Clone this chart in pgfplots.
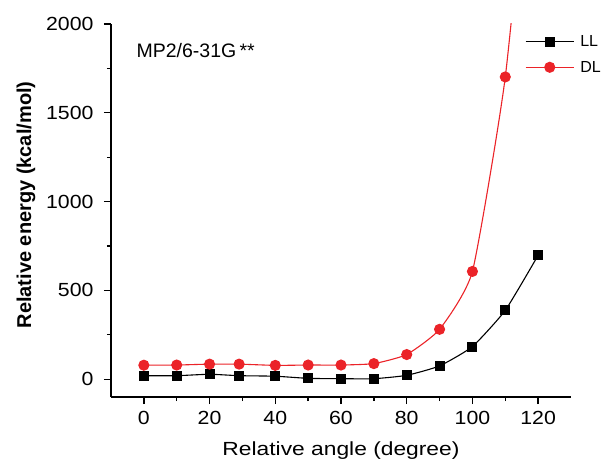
\documentclass[border=0pt]{standalone}
\usepackage{pgfplots}
\pgfplotsset{compat=1.18}
\usepackage{fontspec}
\setmainfont{Liberation Sans}
\newfontfamily\widefont[FakeStretch=1.2]{Liberation Sans}
\newfontfamily\tickfont[FakeStretch=1.12]{Liberation Sans}
\definecolor{dlred}{RGB}{235,35,40}
\begin{document}
\begin{tikzpicture}[x=1pt,y=1pt]
\useasboundingbox (0,0) rectangle (603,461);
\begin{axis}[
  scale only axis, width=460pt, height=373pt,
  at={(111pt,64pt)}, anchor=south west,
  xmin=-10, xmax=130, ymin=-100, ymax=2000,
  axis x line*=bottom, axis y line*=left,
  axis line style={line width=1.3pt},
  xtick={0,20,...,120}, minor x tick num=1,
  ytick={0,500,...,2000}, minor y tick num=1,
  tick align=outside,
  major tick length=7pt, minor tick length=4pt,
  every tick/.style={line width=1.3pt, black},
  /pgf/number format/assume math mode=true,
  /pgf/number format/1000 sep={},
  tick label style={font=\tickfont\fontsize{19}{21}\selectfont},
  xticklabel style={yshift=-4pt},
  yticklabel style={xshift=-7pt},
  xlabel={Relative angle (degree)},
  ylabel={\bfseries Relative energy (kcal/mol)},
  xlabel style={at={(axis description cs:0.5,-0.145)}, anchor=center, font=\widefont\fontsize{19}{21}\selectfont},
  ylabel style={at={(axis description cs:-0.185,0.515)}, anchor=center, font=\fontsize{20}{22}\selectfont},
  legend style={at={(axis description cs:0.9,0.975)}, anchor=north west,
    draw=none, fill=none, font=\fontsize{16}{18}\selectfont,
    row sep=9pt, column sep=4pt, inner sep=0pt},
  legend cell align=left,
  legend image code/.code={
    \draw[mark repeat=2,mark phase=2,#1] plot coordinates {(0pt,0pt) (24pt,0pt) (48pt,0pt)};},
  clip=true,
]
\addplot[black, line width=1.1pt, mark=square*, mark size=4.5pt, smooth, tension=0.3,
  mark options={solid, fill=black}]
  coordinates {(0,20) (10,20) (20,28) (29,20) (40,17) (50,5) (60,3) (70,3) (80,22) (90,75) (100,184) (110,388) (120,698)};
\addlegendentry{LL}
\addplot[dlred, line width=1.1pt, mark=*, mark size=5pt, smooth, tension=0.3,
  mark options={solid, fill=dlred}]
  coordinates {(0,79) (10,80) (20,85) (29,85) (40,78) (50,80) (60,80) (70,88) (80,139) (90,281) (100,607) (110,1702) (120,3550)};
\addlegendentry{DL}
\node[anchor=west, font=\fontsize{19.5}{21}\selectfont] at (axis description cs:0.048,0.93) {MP2/6-31G\,**};
\end{axis}
\end{tikzpicture}
\end{document}
